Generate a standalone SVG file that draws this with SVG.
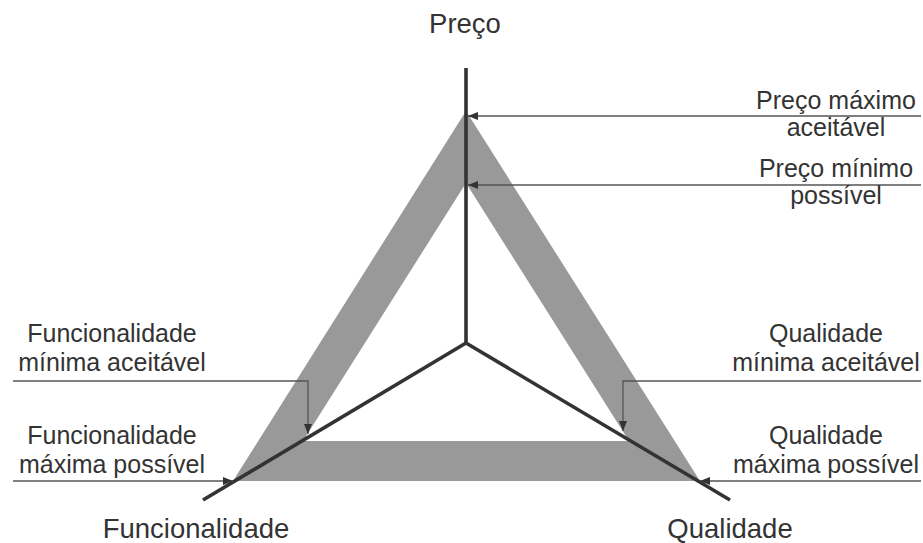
<svg xmlns="http://www.w3.org/2000/svg" width="923" height="543" viewBox="0 0 923 543">
<style>
.band{fill:#999999;fill-rule:evenodd;stroke:none}
.axis{fill:none;stroke:#333333;stroke-width:3.6;stroke-linecap:butt;stroke-linejoin:miter}
.lead{fill:none;stroke:#555555;stroke-width:1.3}
.big{font-family:"Liberation Sans",Arial,sans-serif;font-size:27.5px;fill:#333333;text-anchor:middle}
.lbl{font-family:"Liberation Sans",Arial,sans-serif;font-size:25px;fill:#333333;text-anchor:middle}
</style>
<defs>
<marker id="ah" viewBox="0 0 10 8" refX="10" refY="4" markerWidth="10" markerHeight="8" markerUnits="userSpaceOnUse" orient="auto">
<path d="M0,0 L10,4 L0,8 Z" fill="#333333"/>
</marker>
</defs>
<rect width="923" height="543" fill="#ffffff"/>
<g id="band">
<path class="band" d="M466,111 L233,481 L700,481 Z M466,183 L303,441 L629,441 Z"/>
</g>
<g id="axes">
<path class="axis" d="M466,68 V343"/>
<path class="axis" d="M466,343 L203,500"/>
<path class="axis" d="M466,343 L730,500"/>
</g>
<g id="connectors">
<path class="lead" d="M921,116 H468" marker-end="url(#ah)"/>
<path class="lead" d="M921,185 H468" marker-end="url(#ah)"/>
<path class="lead" d="M13,381 H308 V434" marker-end="url(#ah)"/>
<path class="lead" d="M13,481 H233" marker-end="url(#ah)"/>
<path class="lead" d="M921,381 H623 V431" marker-end="url(#ah)"/>
<path class="lead" d="M921,481 H700" marker-end="url(#ah)"/>
</g>
<g id="preco"><text class="big" x="465" y="33">Preço</text></g>
<g id="funcionalidade"><text class="big" x="196" y="538">Funcionalidade</text></g>
<g id="qualidade"><text class="big" x="730" y="538">Qualidade</text></g>
<g id="preco-max"><text class="lbl" x="836" y="109">Preço máximo</text><text class="lbl" x="836" y="136">aceitável</text></g>
<g id="preco-min"><text class="lbl" x="836" y="177">Preço mínimo</text><text class="lbl" x="836" y="204">possível</text></g>
<g id="func-min"><text class="lbl" x="112" y="342">Funcionalidade</text><text class="lbl" x="112" y="371">mínima aceitável</text></g>
<g id="func-max"><text class="lbl" x="112" y="444">Funcionalidade</text><text class="lbl" x="112" y="473">máxima possível</text></g>
<g id="qual-min"><text class="lbl" x="826" y="342">Qualidade</text><text class="lbl" x="826" y="371">mínima aceitável</text></g>
<g id="qual-max"><text class="lbl" x="826" y="444">Qualidade</text><text class="lbl" x="826" y="473">máxima possível</text></g>
</svg>
